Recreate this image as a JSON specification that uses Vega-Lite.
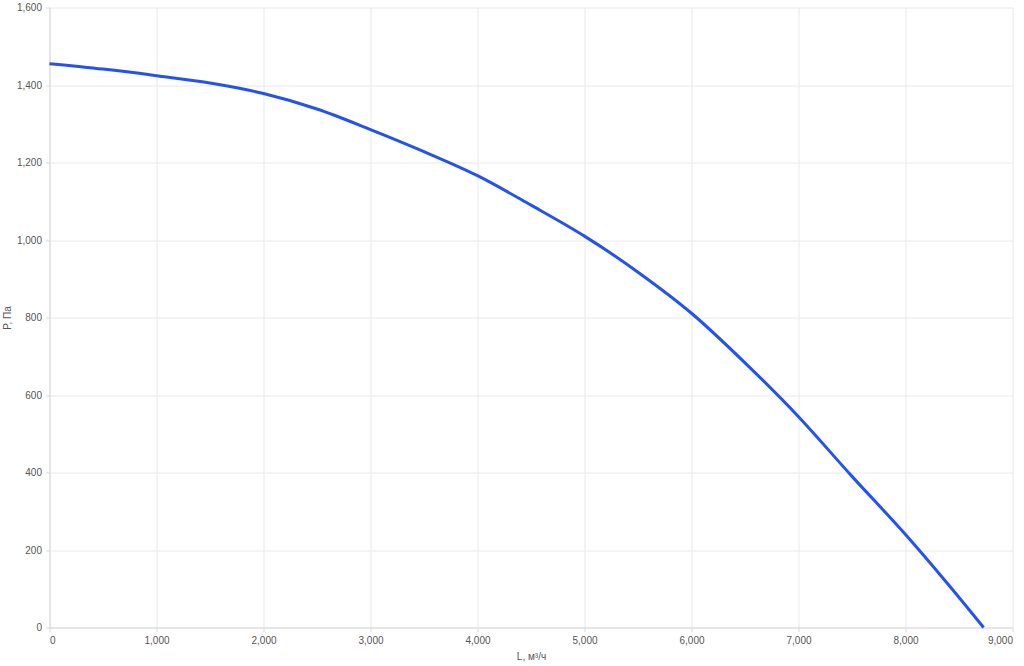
{
  "$schema": "https://vega.github.io/schema/vega-lite/v6.json",
  "width": 963,
  "height": 620,
  "autosize": {"type": "none"},
  "padding": {"left": 49.5, "top": 7.5, "right": 11, "bottom": 39},
  "background": "white",
  "config": {
    "view": {"stroke": null},
    "font": "Liberation Sans",
    "axis": {
      "gridColor": "#e8e8e8",
      "domainColor": "#d9d9d9",
      "tickColor": "#d9d9d9",
      "tickSize": 4,
      "labelFontSize": 10,
      "labelColor": "#555555",
      "labelPadding": 4,
      "titleFontSize": 10,
      "titleFontWeight": "normal",
      "titleColor": "#555555"
    }
  },
  "data": {
    "values": [
      {"L": 0, "P": 1455},
      {"L": 500, "P": 1441},
      {"L": 1000, "P": 1424},
      {"L": 1500, "P": 1405},
      {"L": 2000, "P": 1378},
      {"L": 2500, "P": 1338},
      {"L": 3000, "P": 1285},
      {"L": 3500, "P": 1228},
      {"L": 4000, "P": 1166},
      {"L": 4500, "P": 1090},
      {"L": 5000, "P": 1010},
      {"L": 5500, "P": 917},
      {"L": 6000, "P": 811},
      {"L": 6500, "P": 683},
      {"L": 7000, "P": 544},
      {"L": 7500, "P": 390},
      {"L": 8000, "P": 240},
      {"L": 8400, "P": 111},
      {"L": 8730, "P": 0}
    ]
  },
  "mark": {"type": "line", "color": "#2352F0", "strokeWidth": 3, "interpolate": "monotone"},
  "encoding": {
    "x": {
      "field": "L",
      "type": "quantitative",
      "title": "L, м³/ч",
      "scale": {"domain": [0, 9000], "nice": false},
      "axis": {"values": [0, 1000, 2000, 3000, 4000, 5000, 6000, 7000, 8000, 9000], "format": ",.0f", "titlePadding": 6}
    },
    "y": {
      "field": "P",
      "type": "quantitative",
      "title": "P, Па",
      "scale": {"domain": [0, 1600], "nice": false},
      "axis": {"values": [0, 200, 400, 600, 800, 1000, 1200, 1400, 1600], "format": ",.0f", "titlePadding": 4}
    }
  }
}
